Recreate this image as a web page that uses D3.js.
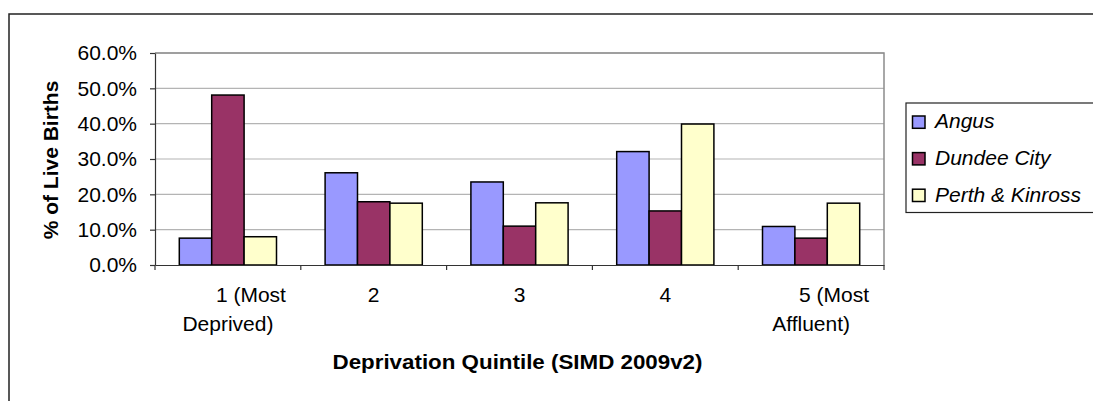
<!DOCTYPE html>
<html>
<head>
<meta charset="utf-8">
<script src="https://cdn.jsdelivr.net/npm/d3@7"></script>
<style>
  html, body { margin: 0; padding: 0; background: #fff; }
  svg { display: block; font-family: "Liberation Sans", Arial, sans-serif; }
</style>
</head>
<body>
<svg id="chart" width="1093" height="401"></svg>
<script>
// ---- data ----
const categories = ["1 (Most Deprived)", "2", "3", "4", "5 (Most Affluent)"];
const categoryLines = [["1 (Most", "Deprived)"], ["2"], ["3"], ["4"], ["5 (Most", "Affluent)"]];
const seriesNames = ["Angus", "Dundee City", "Perth & Kinross"];
const angus = [0.076, 0.261, 0.235, 0.321, 0.109];
const dundee = [0.481, 0.179, 0.110, 0.153, 0.076];
const perth = [0.080, 0.175, 0.176, 0.399, 0.175];
const yTicks = [0, 0.1, 0.2, 0.3, 0.4, 0.5, 0.6];
const seriesColors = ["#9999FF", "#993366", "#FFFFCC"];
const yTitle = "% of Live Births";
const xTitle = "Deprivation Quintile (SIMD 2009v2)";

const seriesValues = [angus, dundee, perth];

const svg = d3.select("#chart");

// outer chart border
svg.append("rect")
  .attr("x", 9).attr("y", 14)
  .attr("width", 1100).attr("height", 400)
  .attr("fill", "#fff").attr("stroke", "#222").attr("stroke-width", 1.5);

const plot = { left: 155, right: 884, top: 53, bottom: 265 };

const x = d3.scaleBand().domain(categories).range([plot.left, plot.right]).paddingInner(0).paddingOuter(0);
const xSub = d3.scaleBand().domain(seriesNames).range([0, x.bandwidth()]).paddingInner(0).paddingOuter(0.75);
const y = d3.scaleLinear().domain([0, 0.6]).range([plot.bottom, plot.top]);

// gridlines
svg.append("g").selectAll("line")
  .data(yTicks.filter(d => d > 0))
  .join("line")
  .attr("x1", plot.left).attr("x2", plot.right)
  .attr("y1", d => y(d)).attr("y2", d => y(d))
  .attr("stroke", "#b4b4b4").attr("stroke-width", 1.2);

// plot area border (right side / top)
svg.append("path")
  .attr("d", `M${plot.left},${plot.top}H${plot.right}V${plot.bottom}`)
  .attr("fill", "none").attr("stroke", "#8c8c8c").attr("stroke-width", 1.5);

// bars
const groups = svg.append("g").selectAll("g")
  .data(categories)
  .join("g")
  .attr("transform", d => `translate(${x(d)},0)`);

groups.selectAll("rect")
  .data((d, i) => seriesNames.map((s, j) => ({ s, v: seriesValues[j][i], c: seriesColors[j] })))
  .join("rect")
  .attr("x", d => xSub(d.s))
  .attr("width", xSub.bandwidth())
  .attr("y", d => y(d.v))
  .attr("height", d => y(0) - y(d.v))
  .attr("fill", d => d.c)
  .attr("stroke", "#000").attr("stroke-width", 1.5);

// y axis
const yAxis = d3.axisLeft(y).tickValues(yTicks).tickSize(5).tickSizeOuter(0)
  .tickFormat(d => (d * 100).toFixed(1) + "%");
const gy = svg.append("g").attr("transform", `translate(${plot.left},0)`).call(yAxis);
gy.select(".domain").attr("stroke", "#333").attr("stroke-width", 1.2);
gy.selectAll(".tick line").attr("stroke", "#333").attr("stroke-width", 1.2);
gy.selectAll(".tick text")
  .attr("x", -18)
  .attr("font-family", "Liberation Sans, Arial, sans-serif")
  .attr("font-size", 21).attr("fill", "#000");

// x axis
const xAxis = d3.axisBottom(x).tickSize(0).tickFormat(() => "");
const gx = svg.append("g").attr("transform", `translate(0,${plot.bottom})`).call(xAxis);
gx.select(".domain").attr("stroke", "#333").attr("stroke-width", 1.2);
// category boundary ticks
const bounds = categories.map(c => x(c)).concat([x(categories[categories.length - 1]) + x.bandwidth()]);
svg.append("g").selectAll("line")
  .data(bounds)
  .join("line")
  .attr("x1", d => d).attr("x2", d => d)
  .attr("y1", plot.bottom).attr("y2", plot.bottom + 5)
  .attr("stroke", "#333").attr("stroke-width", 1.2);

// category labels
const catLabels = svg.append("g").selectAll("text")
  .data(categories)
  .join("text")
  .attr("font-size", 21)
  .attr("text-anchor", "middle")
  .attr("fill", "#000");
catLabels.each(function (d, i) {
  const lines = categoryLines[i];
  const cx = x(d) + x.bandwidth() / 2;
  lines.forEach((ln, k) => {
    d3.select(this).append("tspan")
      .attr("x", cx + (lines.length > 1 && k === 0 ? 23 : 0))
      .attr("y", 302 + k * 28.5)
      .text(ln);
  });
});

// axis titles
svg.append("text")
  .attr("x", (plot.left + plot.right) / 2 - 2)
  .attr("y", 369)
  .attr("text-anchor", "middle")
  .attr("font-size", 20).attr("font-weight", "bold")
  .attr("textLength", 370).attr("lengthAdjust", "spacingAndGlyphs")
  .text(xTitle);

svg.append("text")
  .attr("transform", "translate(58,160) rotate(-90)")
  .attr("text-anchor", "middle")
  .attr("font-size", 21).attr("font-weight", "bold")
  .text(yTitle);

// legend
const legend = svg.append("g");
legend.append("rect")
  .attr("x", 906).attr("y", 103)
  .attr("width", 250).attr("height", 109.5)
  .attr("fill", "#fff").attr("stroke", "#222").attr("stroke-width", 1.2);

const legItems = legend.selectAll("g.item")
  .data(seriesNames)
  .join("g").attr("class", "item")
  .attr("transform", (d, i) => `translate(0,${128.3 + i * 36.6})`);
legItems.append("rect")
  .attr("x", 912.5).attr("y", -12.3)
  .attr("width", 12.5).attr("height", 12.3)
  .attr("fill", (d, i) => seriesColors[i])
  .attr("stroke", "#000").attr("stroke-width", 1.5);
legItems.append("text")
  .attr("x", 935).attr("y", 0)
  .attr("font-size", 21).attr("font-style", "italic")
  .attr("fill", "#000")
  .text(d => d);
</script>
</body>
</html>
